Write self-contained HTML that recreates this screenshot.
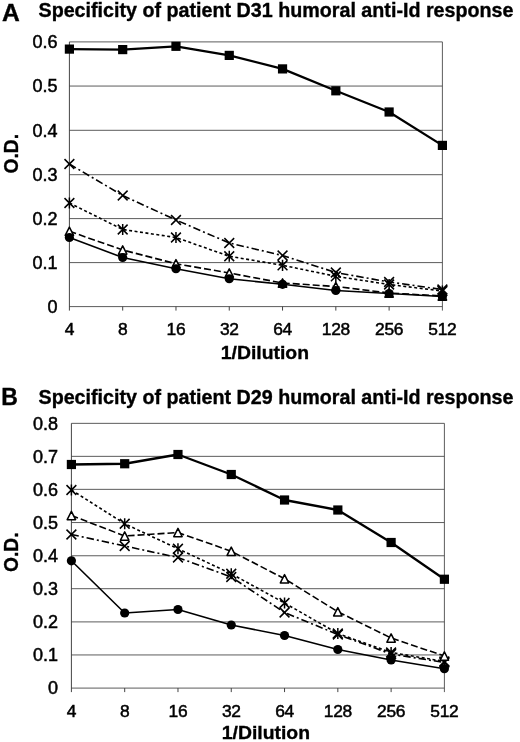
<!DOCTYPE html>
<html><head><meta charset="utf-8"><title>Specificity of humoral anti-Id response</title>
<style>html,body{margin:0;padding:0;background:#fff}svg{display:block}text{font-family:'Liberation Sans', sans-serif;fill:#000}.b{font-weight:bold;stroke:#000;stroke-width:0.35px}.r{font-weight:normal;stroke:#000;stroke-width:0.5px}</style>
</head><body>
<svg width="520" height="742" viewBox="0 0 520 742">
<rect width="520" height="742" fill="#fff"/>
<line x1="69.4" y1="306.60" x2="442.4" y2="306.60" stroke="#4a4a4a" stroke-width="0.9"/>
<line x1="69.4" y1="262.60" x2="442.4" y2="262.60" stroke="#4a4a4a" stroke-width="0.9"/>
<line x1="69.4" y1="218.60" x2="442.4" y2="218.60" stroke="#4a4a4a" stroke-width="0.9"/>
<line x1="69.4" y1="174.70" x2="442.4" y2="174.70" stroke="#4a4a4a" stroke-width="0.9"/>
<line x1="69.4" y1="130.30" x2="442.4" y2="130.30" stroke="#4a4a4a" stroke-width="0.9"/>
<line x1="69.4" y1="86.05" x2="442.4" y2="86.05" stroke="#4a4a4a" stroke-width="0.9"/>
<line x1="69.4" y1="41.90" x2="442.4" y2="41.90" stroke="#4a4a4a" stroke-width="0.9"/>
<line x1="69.4" y1="41.9" x2="69.4" y2="310.6" stroke="#3a3a3a" stroke-width="0.95"/>
<line x1="442.4" y1="41.9" x2="442.4" y2="310.6" stroke="#4a4a4a" stroke-width="0.9"/>
<line x1="122.69" y1="306.6" x2="122.69" y2="310.6" stroke="#3a3a3a" stroke-width="0.95"/>
<line x1="175.97" y1="306.6" x2="175.97" y2="310.6" stroke="#3a3a3a" stroke-width="0.95"/>
<line x1="229.26" y1="306.6" x2="229.26" y2="310.6" stroke="#3a3a3a" stroke-width="0.95"/>
<line x1="282.54" y1="306.6" x2="282.54" y2="310.6" stroke="#3a3a3a" stroke-width="0.95"/>
<line x1="335.83" y1="306.6" x2="335.83" y2="310.6" stroke="#3a3a3a" stroke-width="0.95"/>
<line x1="389.11" y1="306.6" x2="389.11" y2="310.6" stroke="#3a3a3a" stroke-width="0.95"/>
<text x="57.5" y="312.85" text-anchor="end" font-size="18" class="r">0</text>
<text x="57.5" y="268.85" text-anchor="end" font-size="18" class="r">0.1</text>
<text x="57.5" y="224.85" text-anchor="end" font-size="18" class="r">0.2</text>
<text x="57.5" y="180.95" text-anchor="end" font-size="18" class="r">0.3</text>
<text x="57.5" y="136.55" text-anchor="end" font-size="18" class="r">0.4</text>
<text x="57.5" y="92.30" text-anchor="end" font-size="18" class="r">0.5</text>
<text x="57.5" y="48.15" text-anchor="end" font-size="18" class="r">0.6</text>
<text x="69.40" y="334.8" text-anchor="middle" font-size="17.4" letter-spacing="-0.3" class="r">4</text>
<text x="122.69" y="334.8" text-anchor="middle" font-size="17.4" letter-spacing="-0.3" class="r">8</text>
<text x="175.97" y="334.8" text-anchor="middle" font-size="17.4" letter-spacing="-0.3" class="r">16</text>
<text x="229.26" y="334.8" text-anchor="middle" font-size="17.4" letter-spacing="-0.3" class="r">32</text>
<text x="282.54" y="334.8" text-anchor="middle" font-size="17.4" letter-spacing="-0.3" class="r">64</text>
<text x="335.83" y="334.8" text-anchor="middle" font-size="17.4" letter-spacing="-0.3" class="r">128</text>
<text x="389.11" y="334.8" text-anchor="middle" font-size="17.4" letter-spacing="-0.3" class="r">256</text>
<text x="442.40" y="334.8" text-anchor="middle" font-size="17.4" letter-spacing="-0.3" class="r">512</text>
<text x="2" y="20.7" font-size="23" class="b" textLength="17.8" lengthAdjust="spacingAndGlyphs">A</text>
<text x="38.5" y="17.3" font-size="19.7" class="b" textLength="475" lengthAdjust="spacingAndGlyphs">Specificity of patient D31 humoral anti-Id response</text>
<text x="220.8" y="359.3" font-size="19.2" class="b" textLength="88.2" lengthAdjust="spacingAndGlyphs">1/Dilution</text>
<text transform="translate(18.3,173.5) rotate(-90)" font-size="20.8" class="b" textLength="39.5" lengthAdjust="spacingAndGlyphs">O.D.</text>
<path d="M69.40,164.00 L122.69,195.50 L175.97,220.00 L229.26,243.00 L282.54,255.50 L335.83,272.50 L389.11,282.00 L442.40,289.50" fill="none" stroke="#000" stroke-width="1.6" stroke-dasharray="7.5 3 2 3" stroke-linejoin="round"/>
<path d="M64.50,159.10 L74.30,168.90 M64.50,168.90 L74.30,159.10" stroke="#000" stroke-width="1.5" fill="none"/>
<path d="M117.79,190.60 L127.59,200.40 M117.79,200.40 L127.59,190.60" stroke="#000" stroke-width="1.5" fill="none"/>
<path d="M171.07,215.10 L180.87,224.90 M171.07,224.90 L180.87,215.10" stroke="#000" stroke-width="1.5" fill="none"/>
<path d="M224.36,238.10 L234.16,247.90 M224.36,247.90 L234.16,238.10" stroke="#000" stroke-width="1.5" fill="none"/>
<path d="M277.64,250.60 L287.44,260.40 M277.64,260.40 L287.44,250.60" stroke="#000" stroke-width="1.5" fill="none"/>
<path d="M330.93,267.60 L340.73,277.40 M330.93,277.40 L340.73,267.60" stroke="#000" stroke-width="1.5" fill="none"/>
<path d="M384.21,277.10 L394.01,286.90 M384.21,286.90 L394.01,277.10" stroke="#000" stroke-width="1.5" fill="none"/>
<path d="M437.50,284.60 L447.30,294.40 M437.50,294.40 L447.30,284.60" stroke="#000" stroke-width="1.5" fill="none"/>
<path d="M69.40,203.00 L122.69,229.50 L175.97,237.50 L229.26,256.25 L282.54,265.30 L335.83,276.30 L389.11,284.50 L442.40,291.00" fill="none" stroke="#000" stroke-width="1.6" stroke-dasharray="3 2.5" stroke-linejoin="round"/>
<path d="M64.50,198.10 L74.30,207.90 M64.50,207.90 L74.30,198.10 M69.40,197.40 L69.40,208.60" stroke="#000" stroke-width="1.5" fill="none"/>
<path d="M117.79,224.60 L127.59,234.40 M117.79,234.40 L127.59,224.60 M122.69,223.90 L122.69,235.10" stroke="#000" stroke-width="1.5" fill="none"/>
<path d="M171.07,232.60 L180.87,242.40 M171.07,242.40 L180.87,232.60 M175.97,231.90 L175.97,243.10" stroke="#000" stroke-width="1.5" fill="none"/>
<path d="M224.36,251.35 L234.16,261.15 M224.36,261.15 L234.16,251.35 M229.26,250.65 L229.26,261.85" stroke="#000" stroke-width="1.5" fill="none"/>
<path d="M277.64,260.40 L287.44,270.20 M277.64,270.20 L287.44,260.40 M282.54,259.70 L282.54,270.90" stroke="#000" stroke-width="1.5" fill="none"/>
<path d="M330.93,271.40 L340.73,281.20 M330.93,281.20 L340.73,271.40 M335.83,270.70 L335.83,281.90" stroke="#000" stroke-width="1.5" fill="none"/>
<path d="M384.21,279.60 L394.01,289.40 M384.21,289.40 L394.01,279.60 M389.11,278.90 L389.11,290.10" stroke="#000" stroke-width="1.5" fill="none"/>
<path d="M437.50,286.10 L447.30,295.90 M437.50,295.90 L447.30,286.10 M442.40,285.40 L442.40,296.60" stroke="#000" stroke-width="1.5" fill="none"/>
<path d="M69.40,231.25 L122.69,250.00 L175.97,263.75 L229.26,273.00 L282.54,283.00 L335.83,286.50 L389.11,293.00 L442.40,296.00" fill="none" stroke="#000" stroke-width="1.6" stroke-dasharray="7 3" stroke-linejoin="round"/>
<path d="M69.40,227.05 L73.60,235.45 L65.20,235.45 Z" fill="#fff" stroke="#000" stroke-width="1.5" stroke-linejoin="round"/>
<path d="M122.69,245.80 L126.89,254.20 L118.49,254.20 Z" fill="#fff" stroke="#000" stroke-width="1.5" stroke-linejoin="round"/>
<path d="M175.97,259.55 L180.17,267.95 L171.77,267.95 Z" fill="#fff" stroke="#000" stroke-width="1.5" stroke-linejoin="round"/>
<path d="M229.26,268.80 L233.46,277.20 L225.06,277.20 Z" fill="#fff" stroke="#000" stroke-width="1.5" stroke-linejoin="round"/>
<path d="M282.54,278.80 L286.74,287.20 L278.34,287.20 Z" fill="#fff" stroke="#000" stroke-width="1.5" stroke-linejoin="round"/>
<path d="M335.83,282.30 L340.03,290.70 L331.63,290.70 Z" fill="#fff" stroke="#000" stroke-width="1.5" stroke-linejoin="round"/>
<path d="M389.11,288.80 L393.31,297.20 L384.91,297.20 Z" fill="#fff" stroke="#000" stroke-width="1.5" stroke-linejoin="round"/>
<path d="M442.40,291.80 L446.60,300.20 L438.20,300.20 Z" fill="#fff" stroke="#000" stroke-width="1.5" stroke-linejoin="round"/>
<path d="M69.40,237.50 L122.69,257.50 L175.97,268.75 L229.26,278.75 L282.54,284.30 L335.83,290.50 L389.11,293.50 L442.40,296.50" fill="none" stroke="#000" stroke-width="1.6" stroke-linejoin="round"/>
<circle cx="69.40" cy="237.50" r="4.6" fill="#000"/>
<circle cx="122.69" cy="257.50" r="4.6" fill="#000"/>
<circle cx="175.97" cy="268.75" r="4.6" fill="#000"/>
<circle cx="229.26" cy="278.75" r="4.6" fill="#000"/>
<circle cx="282.54" cy="284.30" r="4.6" fill="#000"/>
<circle cx="335.83" cy="290.50" r="4.6" fill="#000"/>
<circle cx="389.11" cy="293.50" r="4.6" fill="#000"/>
<circle cx="442.40" cy="296.50" r="4.6" fill="#000"/>
<path d="M69.40,49.10 L122.69,49.60 L175.97,46.30 L229.26,55.40 L282.54,68.90 L335.83,90.80 L389.11,112.00 L442.40,145.40" fill="none" stroke="#000" stroke-width="2.3" stroke-linejoin="round"/>
<rect x="64.80" y="44.50" width="9.2" height="9.2" fill="#000"/>
<rect x="118.09" y="45.00" width="9.2" height="9.2" fill="#000"/>
<rect x="171.37" y="41.70" width="9.2" height="9.2" fill="#000"/>
<rect x="224.66" y="50.80" width="9.2" height="9.2" fill="#000"/>
<rect x="277.94" y="64.30" width="9.2" height="9.2" fill="#000"/>
<rect x="331.23" y="86.20" width="9.2" height="9.2" fill="#000"/>
<rect x="384.51" y="107.40" width="9.2" height="9.2" fill="#000"/>
<rect x="437.80" y="140.80" width="9.2" height="9.2" fill="#000"/>
<line x1="71.4" y1="688.10" x2="444.4" y2="688.10" stroke="#4a4a4a" stroke-width="0.9"/>
<line x1="71.4" y1="654.95" x2="444.4" y2="654.95" stroke="#4a4a4a" stroke-width="0.9"/>
<line x1="71.4" y1="621.90" x2="444.4" y2="621.90" stroke="#4a4a4a" stroke-width="0.9"/>
<line x1="71.4" y1="588.70" x2="444.4" y2="588.70" stroke="#4a4a4a" stroke-width="0.9"/>
<line x1="71.4" y1="555.75" x2="444.4" y2="555.75" stroke="#4a4a4a" stroke-width="0.9"/>
<line x1="71.4" y1="522.55" x2="444.4" y2="522.55" stroke="#4a4a4a" stroke-width="0.9"/>
<line x1="71.4" y1="489.35" x2="444.4" y2="489.35" stroke="#4a4a4a" stroke-width="0.9"/>
<line x1="71.4" y1="456.35" x2="444.4" y2="456.35" stroke="#4a4a4a" stroke-width="0.9"/>
<line x1="71.4" y1="423.35" x2="444.4" y2="423.35" stroke="#4a4a4a" stroke-width="0.9"/>
<line x1="71.4" y1="423.35" x2="71.4" y2="692.1" stroke="#3a3a3a" stroke-width="0.95"/>
<line x1="444.4" y1="423.35" x2="444.4" y2="692.1" stroke="#4a4a4a" stroke-width="0.9"/>
<line x1="124.69" y1="688.1" x2="124.69" y2="692.1" stroke="#3a3a3a" stroke-width="0.95"/>
<line x1="177.97" y1="688.1" x2="177.97" y2="692.1" stroke="#3a3a3a" stroke-width="0.95"/>
<line x1="231.26" y1="688.1" x2="231.26" y2="692.1" stroke="#3a3a3a" stroke-width="0.95"/>
<line x1="284.54" y1="688.1" x2="284.54" y2="692.1" stroke="#3a3a3a" stroke-width="0.95"/>
<line x1="337.83" y1="688.1" x2="337.83" y2="692.1" stroke="#3a3a3a" stroke-width="0.95"/>
<line x1="391.11" y1="688.1" x2="391.11" y2="692.1" stroke="#3a3a3a" stroke-width="0.95"/>
<text x="58.1" y="694.35" text-anchor="end" font-size="18" class="r">0</text>
<text x="58.1" y="661.20" text-anchor="end" font-size="18" class="r">0.1</text>
<text x="58.1" y="628.15" text-anchor="end" font-size="18" class="r">0.2</text>
<text x="58.1" y="594.95" text-anchor="end" font-size="18" class="r">0.3</text>
<text x="58.1" y="562.00" text-anchor="end" font-size="18" class="r">0.4</text>
<text x="58.1" y="528.80" text-anchor="end" font-size="18" class="r">0.5</text>
<text x="58.1" y="495.60" text-anchor="end" font-size="18" class="r">0.6</text>
<text x="58.1" y="462.60" text-anchor="end" font-size="18" class="r">0.7</text>
<text x="58.1" y="429.60" text-anchor="end" font-size="18" class="r">0.8</text>
<text x="71.40" y="716.7" text-anchor="middle" font-size="17.4" letter-spacing="-0.3" class="r">4</text>
<text x="124.69" y="716.7" text-anchor="middle" font-size="17.4" letter-spacing="-0.3" class="r">8</text>
<text x="177.97" y="716.7" text-anchor="middle" font-size="17.4" letter-spacing="-0.3" class="r">16</text>
<text x="231.26" y="716.7" text-anchor="middle" font-size="17.4" letter-spacing="-0.3" class="r">32</text>
<text x="284.54" y="716.7" text-anchor="middle" font-size="17.4" letter-spacing="-0.3" class="r">64</text>
<text x="337.83" y="716.7" text-anchor="middle" font-size="17.4" letter-spacing="-0.3" class="r">128</text>
<text x="391.11" y="716.7" text-anchor="middle" font-size="17.4" letter-spacing="-0.3" class="r">256</text>
<text x="444.40" y="716.7" text-anchor="middle" font-size="17.4" letter-spacing="-0.3" class="r">512</text>
<text x="1.2" y="405" font-size="23" class="b">B</text>
<text x="38.5" y="404.2" font-size="19.7" class="b" textLength="475" lengthAdjust="spacingAndGlyphs">Specificity of patient D29 humoral anti-Id response</text>
<text x="221.8" y="738.8" font-size="19.2" class="b" textLength="88.2" lengthAdjust="spacingAndGlyphs">1/Dilution</text>
<text transform="translate(17.6,572) rotate(-90)" font-size="20.8" class="b" textLength="39.5" lengthAdjust="spacingAndGlyphs">O.D.</text>
<path d="M71.40,534.50 L124.69,546.00 L177.97,557.50 L231.26,577.00 L284.54,612.50 L337.83,634.50 L391.11,654.00 L444.40,662.50" fill="none" stroke="#000" stroke-width="1.6" stroke-dasharray="7.5 3 2 3" stroke-linejoin="round"/>
<path d="M66.50,529.60 L76.30,539.40 M66.50,539.40 L76.30,529.60" stroke="#000" stroke-width="1.5" fill="none"/>
<path d="M119.79,541.10 L129.59,550.90 M119.79,550.90 L129.59,541.10" stroke="#000" stroke-width="1.5" fill="none"/>
<path d="M173.07,552.60 L182.87,562.40 M173.07,562.40 L182.87,552.60" stroke="#000" stroke-width="1.5" fill="none"/>
<path d="M226.36,572.10 L236.16,581.90 M226.36,581.90 L236.16,572.10" stroke="#000" stroke-width="1.5" fill="none"/>
<path d="M279.64,607.60 L289.44,617.40 M279.64,617.40 L289.44,607.60" stroke="#000" stroke-width="1.5" fill="none"/>
<path d="M332.93,629.60 L342.73,639.40 M332.93,639.40 L342.73,629.60" stroke="#000" stroke-width="1.5" fill="none"/>
<path d="M386.21,649.10 L396.01,658.90 M386.21,658.90 L396.01,649.10" stroke="#000" stroke-width="1.5" fill="none"/>
<path d="M439.50,657.60 L449.30,667.40 M439.50,667.40 L449.30,657.60" stroke="#000" stroke-width="1.5" fill="none"/>
<path d="M71.40,490.00 L124.69,523.75 L177.97,548.75 L231.26,573.75 L284.54,603.00 L337.83,633.50 L391.11,652.50 L444.40,661.50" fill="none" stroke="#000" stroke-width="1.6" stroke-dasharray="3 2.5" stroke-linejoin="round"/>
<path d="M66.50,485.10 L76.30,494.90 M66.50,494.90 L76.30,485.10 M71.40,484.40 L71.40,495.60" stroke="#000" stroke-width="1.5" fill="none"/>
<path d="M119.79,518.85 L129.59,528.65 M119.79,528.65 L129.59,518.85 M124.69,518.15 L124.69,529.35" stroke="#000" stroke-width="1.5" fill="none"/>
<path d="M173.07,543.85 L182.87,553.65 M173.07,553.65 L182.87,543.85 M177.97,543.15 L177.97,554.35" stroke="#000" stroke-width="1.5" fill="none"/>
<path d="M226.36,568.85 L236.16,578.65 M226.36,578.65 L236.16,568.85 M231.26,568.15 L231.26,579.35" stroke="#000" stroke-width="1.5" fill="none"/>
<path d="M279.64,598.10 L289.44,607.90 M279.64,607.90 L289.44,598.10 M284.54,597.40 L284.54,608.60" stroke="#000" stroke-width="1.5" fill="none"/>
<path d="M332.93,628.60 L342.73,638.40 M332.93,638.40 L342.73,628.60 M337.83,627.90 L337.83,639.10" stroke="#000" stroke-width="1.5" fill="none"/>
<path d="M386.21,647.60 L396.01,657.40 M386.21,657.40 L396.01,647.60 M391.11,646.90 L391.11,658.10" stroke="#000" stroke-width="1.5" fill="none"/>
<path d="M439.50,656.60 L449.30,666.40 M439.50,666.40 L449.30,656.60 M444.40,655.90 L444.40,667.10" stroke="#000" stroke-width="1.5" fill="none"/>
<path d="M71.40,515.50 L124.69,536.00 L177.97,532.50 L231.26,551.25 L284.54,578.75 L337.83,611.75 L391.11,638.00 L444.40,656.00" fill="none" stroke="#000" stroke-width="1.6" stroke-dasharray="7 3" stroke-linejoin="round"/>
<path d="M71.40,511.30 L75.60,519.70 L67.20,519.70 Z" fill="#fff" stroke="#000" stroke-width="1.5" stroke-linejoin="round"/>
<path d="M124.69,531.80 L128.89,540.20 L120.49,540.20 Z" fill="#fff" stroke="#000" stroke-width="1.5" stroke-linejoin="round"/>
<path d="M177.97,528.30 L182.17,536.70 L173.77,536.70 Z" fill="#fff" stroke="#000" stroke-width="1.5" stroke-linejoin="round"/>
<path d="M231.26,547.05 L235.46,555.45 L227.06,555.45 Z" fill="#fff" stroke="#000" stroke-width="1.5" stroke-linejoin="round"/>
<path d="M284.54,574.55 L288.74,582.95 L280.34,582.95 Z" fill="#fff" stroke="#000" stroke-width="1.5" stroke-linejoin="round"/>
<path d="M337.83,607.55 L342.03,615.95 L333.63,615.95 Z" fill="#fff" stroke="#000" stroke-width="1.5" stroke-linejoin="round"/>
<path d="M391.11,633.80 L395.31,642.20 L386.91,642.20 Z" fill="#fff" stroke="#000" stroke-width="1.5" stroke-linejoin="round"/>
<path d="M444.40,651.80 L448.60,660.20 L440.20,660.20 Z" fill="#fff" stroke="#000" stroke-width="1.5" stroke-linejoin="round"/>
<path d="M71.40,560.80 L124.69,613.00 L177.97,609.50 L231.26,625.00 L284.54,635.50 L337.83,649.50 L391.11,660.00 L444.40,668.75" fill="none" stroke="#000" stroke-width="1.6" stroke-linejoin="round"/>
<circle cx="71.40" cy="560.80" r="4.6" fill="#000"/>
<circle cx="124.69" cy="613.00" r="4.6" fill="#000"/>
<circle cx="177.97" cy="609.50" r="4.6" fill="#000"/>
<circle cx="231.26" cy="625.00" r="4.6" fill="#000"/>
<circle cx="284.54" cy="635.50" r="4.6" fill="#000"/>
<circle cx="337.83" cy="649.50" r="4.6" fill="#000"/>
<circle cx="391.11" cy="660.00" r="4.6" fill="#000"/>
<circle cx="444.40" cy="668.75" r="4.6" fill="#000"/>
<path d="M71.40,464.50 L124.69,463.75 L177.97,454.50 L231.26,474.50 L284.54,500.00 L337.83,510.00 L391.11,542.50 L444.40,579.25" fill="none" stroke="#000" stroke-width="2.3" stroke-linejoin="round"/>
<rect x="66.80" y="459.90" width="9.2" height="9.2" fill="#000"/>
<rect x="120.09" y="459.15" width="9.2" height="9.2" fill="#000"/>
<rect x="173.37" y="449.90" width="9.2" height="9.2" fill="#000"/>
<rect x="226.66" y="469.90" width="9.2" height="9.2" fill="#000"/>
<rect x="279.94" y="495.40" width="9.2" height="9.2" fill="#000"/>
<rect x="333.23" y="505.40" width="9.2" height="9.2" fill="#000"/>
<rect x="386.51" y="537.90" width="9.2" height="9.2" fill="#000"/>
<rect x="439.80" y="574.65" width="9.2" height="9.2" fill="#000"/>
</svg></body></html>
